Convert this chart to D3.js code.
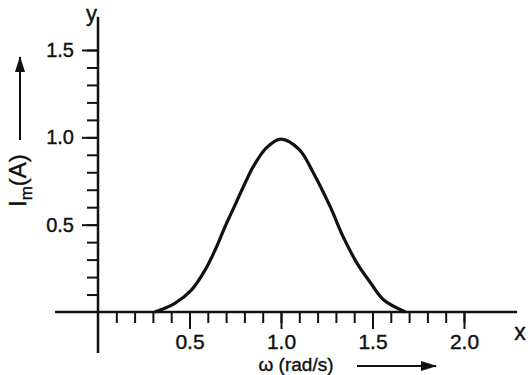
<!DOCTYPE html>
<html>
<head>
<meta charset="utf-8">
<script src="https://cdn.jsdelivr.net/npm/d3@7"></script>
<style>
  html, body { margin: 0; padding: 0; background: #fff; }
  svg { display: block; }
  text { font-family: "Liberation Sans", Arial, sans-serif; fill: #111; stroke: #111; stroke-width: 0.4px; }
</style>
</head>
<body>
<svg id="chart"></svg>
<script>
// resonance curve
const omega = [0.31, 0.42, 0.51, 0.585, 0.64, 0.695, 0.75, 0.80, 0.85, 0.92, 1.0, 1.10, 1.175, 1.27, 1.34, 1.415, 1.49, 1.56, 1.68];
const current = [0, 0.05, 0.125, 0.24, 0.355, 0.49, 0.615, 0.73, 0.835, 0.94, 0.99, 0.93, 0.80, 0.60, 0.43, 0.28, 0.166, 0.07, 0];

const xMajorTicks = [0.5, 1.0, 1.5, 2.0];
const yMajorTicks = [0.5, 1.0, 1.5];
const xMinorTicks = d3.range(1, 21).map((i) => i / 10);
const yMinorTicks = d3.range(1, 16).map((i) => i / 10);

const width = 528;
const height = 375;

const svg = d3.select("#chart").attr("width", width).attr("height", height);

// scales: origin sits at (98, 312)
const x = d3.scaleLinear().domain([0, 2]).range([98, 464]);
const y = d3.scaleLinear().domain([0, 1.5]).range([312, 50]);

// arrowhead marker
svg.append("defs")
    .append("marker")
    .attr("id", "arrow")
    .attr("viewBox", "0 0 16 10")
    .attr("refX", 15)
    .attr("refY", 5)
    .attr("markerWidth", 16)
    .attr("markerHeight", 10)
    .attr("markerUnits", "userSpaceOnUse")
    .attr("orient", "auto")
    .append("path")
    .attr("d", "M0,0 L16,5 L0,10 Z")
    .attr("fill", "#111");

// axis lines, extended past the origin
svg.append("line")
    .attr("x1", x(-0.235)).attr("x2", x(2.29))
    .attr("y1", y(0)).attr("y2", y(0))
    .attr("stroke", "#111").attr("stroke-width", 2.5);

svg.append("line")
    .attr("x1", x(0)).attr("x2", x(0))
    .attr("y1", y(-0.235)).attr("y2", y(1.69))
    .attr("stroke", "#111").attr("stroke-width", 2.5);

const styleAxis = (g, fontSize) => {
    g.select(".domain").remove();
    g.selectAll(".tick line").attr("stroke", "#111").attr("stroke-width", 2);
    g.selectAll(".tick text")
        .attr("font-size", fontSize)
        .attr("fill", "#111");
};

// x ticks
svg.append("g")
    .attr("transform", `translate(0, ${y(0)})`)
    .call(d3.axisBottom(x).tickValues(xMinorTicks).tickSize(11).tickFormat(""))
    .call((g) => styleAxis(g, 0));

svg.append("g")
    .attr("transform", `translate(0, ${y(0)})`)
    .call(d3.axisBottom(x).tickValues(xMajorTicks).tickSize(17).tickPadding(5).tickFormat(d3.format(".1f")))
    .call((g) => styleAxis(g, 21));

// y ticks
svg.append("g")
    .attr("transform", `translate(${x(0)}, 0)`)
    .call(d3.axisLeft(y).tickValues(yMinorTicks).tickSize(11).tickFormat(""))
    .call((g) => styleAxis(g, 0));

svg.append("g")
    .attr("transform", `translate(${x(0)}, 0)`)
    .call(d3.axisLeft(y).tickValues(yMajorTicks).tickSize(16).tickPadding(8).tickFormat(d3.format(".1f")))
    .call((g) => styleAxis(g, 20));

// curve
const line = d3.line()
    .x((d, i) => x(omega[i]))
    .y((d) => y(d))
    .curve(d3.curveCatmullRom.alpha(0.5));

svg.append("path")
    .datum(current)
    .attr("d", line)
    .attr("fill", "none")
    .attr("stroke", "#111")
    .attr("stroke-width", 3.2);

// axis letters
svg.append("text")
    .attr("x", 97).attr("y", 21)
    .attr("text-anchor", "end")
    .attr("font-size", 22)
    .text("y");

svg.append("text")
    .attr("x", 520).attr("y", 340)
    .attr("text-anchor", "middle")
    .attr("font-size", 23)
    .text("x");

// y title with arrow
const yTitle = svg.append("text")
    .attr("transform", "translate(26, 207) rotate(-90)")
    .attr("font-size", 24);
yTitle.append("tspan").text("I");
yTitle.append("tspan").attr("font-size", 17).attr("dy", 6).text("m");
yTitle.append("tspan").attr("dy", -6).text("(A)");

svg.append("line")
    .attr("x1", 20).attr("x2", 20)
    .attr("y1", 140).attr("y2", 57)
    .attr("stroke", "#111").attr("stroke-width", 2)
    .attr("marker-end", "url(#arrow)");

// x title with arrow
svg.append("text")
    .attr("x", 296).attr("y", 371)
    .attr("text-anchor", "middle")
    .attr("font-size", 19)
    .text("ω (rad/s)");

svg.append("line")
    .attr("x1", 357).attr("x2", 436)
    .attr("y1", 366).attr("y2", 366)
    .attr("stroke", "#111").attr("stroke-width", 2)
    .attr("marker-end", "url(#arrow)");
</script>
</body>
</html>
